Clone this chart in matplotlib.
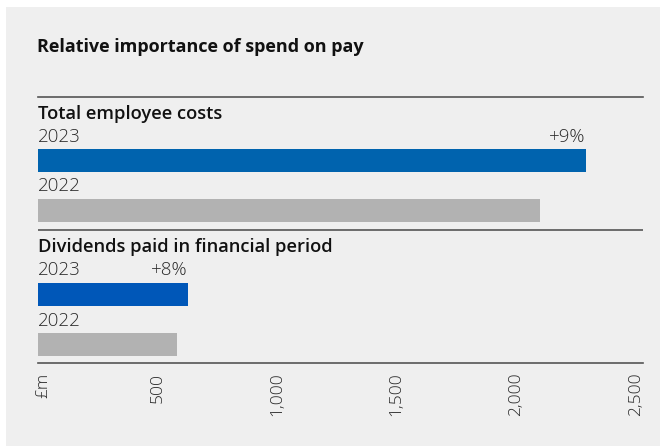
import matplotlib.pyplot as plt
from matplotlib.patches import Rectangle

# valores en £m
grupos = ['Total employee costs', 'Dividends paid in financial period']
anios = ['2023', '2022']
valores_2023 = [2290, 627]
valores_2022 = [2100, 581]
cambios = ['+9%', '+8%']
ticks = [0, 500, 1000, 1500, 2000, 2500]
tick_labels = ['£m', '500', '1,000', '1,500', '2,000', '2,500']

plt.rcParams['font.family'] = ['Open Sans', 'DejaVu Sans']

fig = plt.figure(figsize=(6.6, 4.46), dpi=100, facecolor='white')
fig.patches.append(Rectangle((6/660, 0), 1 - 6/660, 1 - 7/446, transform=fig.transFigure,
                             facecolor='#efefef', edgecolor='none', zorder=-10))
fig.text(37/660, 1 - 47/446, 'Relative importance of spend on pay', fontsize=13,
         fontweight='bold', va='center', ha='left', color='#111111')

# ejes en coordenadas de pixel verticales
ax = fig.add_axes([38/660, 1 - 363/446, (643 - 38)/660, (363 - 97)/446])
ax.set_facecolor('none')
ax.set_xlim(0, 2530)
ax.set_ylim(363, 97)

azul = ['#0063ae', '#0057b8']
gris = '#b2b2b2'
texto = '#2a2a2a'
y_header = [114, 247]
y_2023 = [160.5, 294]
y_2022 = [210, 344.5]
for i in range(2):
    ax.barh(y_2023[i], valores_2023[i], height=23, color=azul[i], left=0)
    ax.barh(y_2022[i], valores_2022[i], height=23, color=gris, left=0)
    ax.text(0, y_header[i], grupos[i], fontsize=13.2, fontweight='semibold', va='center',
            ha='left', color='#111111')
    ax.text(0, y_2023[i] - 24, anios[0], fontsize=13.5, fontweight='light', va='center',
            ha='left', color=texto)
    ax.text(0, y_2022[i] - 24, anios[1], fontsize=13.5, fontweight='light', va='center',
            ha='left', color=texto)
    ax.text(valores_2023[i], y_2023[i] - 24, cambios[i], fontsize=13.5, fontweight='light',
            va='center', ha='right', color=texto)

ax.axhline(230, color='#555555', lw=1.2)
for s in ['left', 'right']:
    ax.spines[s].set_visible(False)
for s in ['top', 'bottom']:
    ax.spines[s].set_color('#555555')
    ax.spines[s].set_linewidth(1.2)
ax.set_yticks([])
ax.set_xticks(ticks)
ax.set_xticklabels([''] + tick_labels[1:], rotation=90, fontsize=12.5, fontweight='light', color=texto)
ax.tick_params(axis='x', length=0, pad=7)
# el rotulo de unidades queda un poco a la derecha del cero
ax.annotate(tick_labels[0], xy=(ticks[0], 0), xycoords=('data', 'axes fraction'),
            xytext=(4, -7), textcoords='offset points', rotation=90, ha='center', va='top',
            fontsize=12.5, fontweight='light', color=texto)

fig.savefig('out.png', dpi=100)
